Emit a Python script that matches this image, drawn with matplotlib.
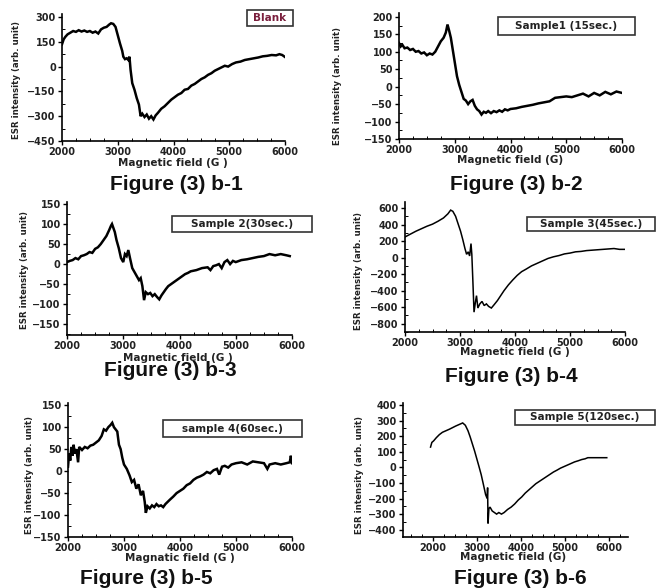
import matplotlib
matplotlib.use("Agg")
import matplotlib.pyplot as plt
from matplotlib.ticker import MultipleLocator, AutoMinorLocator
from matplotlib.patches import Rectangle

# ---------------- data ----------------
blank_pts = [(2000,135),(2030,165),(2060,180),(2100,195),(2150,205),(2200,215),(2250,210),(2300,220),
             (2350,212),(2400,218),(2450,210),(2500,215),(2550,205),(2600,212),(2650,200),(2700,225),
             (2750,235),(2800,240),(2850,255),(2880,262),(2920,258),(2960,240),(3000,190),(3040,140),
             (3080,95),(3100,60),(3130,45),(3160,50),(3190,40),(3210,60),(3230,-20),(3260,-100),
             (3300,-140),(3340,-190),(3380,-230),(3410,-300),(3440,-285),(3480,-305),(3520,-290),
             (3560,-315),(3600,-300),(3640,-320),(3680,-295),(3720,-280),(3780,-255),(3840,-240),
             (3900,-220),(3960,-200),(4020,-185),(4080,-170),(4140,-160),(4200,-140),(4260,-135),
             (4320,-115),(4380,-105),(4440,-90),(4500,-75),(4560,-65),(4620,-50),(4680,-40),(4740,-25),
             (4800,-15),(4860,-5),(4920,5),(4980,0),(5050,15),(5120,25),(5200,30),(5280,40),(5360,45),
             (5440,50),(5520,55),(5600,62),(5680,65),(5760,70),(5840,68),(5900,75),(5950,70),(6000,58)]

sample1_pts = [(2000,125),(2030,115),(2060,120),(2100,110),(2150,112),(2200,105),(2250,108),(2300,100),
               (2350,102),(2400,95),(2450,98),(2500,90),(2550,95),(2600,92),(2650,100),(2700,115),
               (2750,130),(2800,140),(2840,155),(2870,178),(2900,160),(2930,140),(2960,110),(3000,70),
               (3040,30),(3080,5),(3120,-15),(3160,-35),(3200,-40),(3240,-50),(3280,-42),(3320,-38),
               (3360,-55),(3400,-65),(3440,-70),(3480,-80),(3520,-72),(3560,-75),(3600,-70),(3650,-76),
               (3700,-70),(3750,-73),(3800,-68),(3850,-72),(3900,-65),(3950,-68),(4000,-64),(4100,-62),
               (4200,-58),(4300,-55),(4400,-52),(4500,-48),(4600,-45),(4700,-42),(4800,-32),(4900,-30),
               (5000,-28),(5100,-30),(5200,-25),(5300,-20),(5400,-28),(5500,-18),(5600,-25),(5700,-15),
               (5800,-22),(5900,-14),(6000,-18)]

sample2_pts = [(2000,5),(2050,8),(2100,10),(2150,15),(2200,12),(2250,20),(2300,22),(2350,25),(2400,30),
               (2450,28),(2500,38),(2550,42),(2600,50),(2650,60),(2700,70),(2750,85),(2780,95),(2800,100),
               (2820,92),(2850,80),(2880,60),(2920,40),(2960,15),(3000,5),(3030,25),(3060,20),(3090,35),
               (3120,15),(3160,-10),(3200,-20),(3240,-30),(3280,-40),(3310,-35),(3340,-55),(3370,-90),
               (3400,-70),(3440,-75),(3480,-72),(3520,-80),(3560,-75),(3600,-82),(3640,-88),(3680,-78),
               (3720,-70),(3760,-62),(3800,-55),(3850,-50),(3900,-45),(3950,-40),(4000,-35),(4050,-30),
               (4100,-25),(4150,-22),(4200,-18),(4300,-15),(4400,-10),(4500,-8),(4550,-15),(4600,-5),
               (4650,-3),(4700,0),(4750,-10),(4800,5),(4850,10),(4900,0),(4950,8),(5000,5),(5100,10),
               (5200,12),(5300,15),(5400,18),(5500,20),(5600,25),(5700,22),(5800,25),(5900,22),(5960,20)]

sample3_pts = [(2000,250),(2100,285),(2200,320),(2300,350),(2400,380),(2500,405),(2600,440),(2700,480),
               (2780,530),(2830,575),(2870,560),(2920,500),(2960,420),(3010,320),(3050,220),(3090,110),
               (3120,40),(3150,70),(3175,20),(3200,170),(3215,40),(3235,-300),(3255,-660),(3280,-540),
               (3300,-460),(3325,-610),(3360,-560),(3400,-530),(3440,-580),(3480,-560),(3520,-590),
               (3570,-610),(3620,-570),(3680,-520),(3740,-460),(3800,-400),(3880,-330),(3960,-270),
               (4040,-215),(4120,-170),(4200,-140),(4300,-100),(4400,-70),(4500,-40),(4600,-10),
               (4700,10),(4800,25),(4900,45),(5000,55),(5100,70),(5200,75),(5300,85),(5400,90),
               (5500,95),(5600,100),(5700,105),(5800,110),(5900,100),(6000,100)]

sample4_pts = [(2000,10),(2020,40),(2040,25),(2060,55),(2080,35),(2100,60),(2120,40),(2150,50),(2180,20),
               (2200,55),(2250,48),(2300,55),(2350,52),(2400,58),(2450,60),(2500,65),(2550,70),(2600,80),
               (2640,95),(2680,92),(2720,100),(2760,105),(2790,110),(2820,100),(2850,95),(2880,90),
               (2910,60),(2940,50),(2970,30),(3000,15),(3050,5),(3100,-10),(3140,-25),(3180,-20),
               (3220,-40),(3260,-30),(3300,-55),(3340,-45),(3370,-70),(3390,-95),(3420,-80),(3460,-85),
               (3500,-78),(3540,-82),(3580,-75),(3620,-80),(3660,-78),(3700,-82),(3740,-75),(3780,-70),
               (3820,-65),(3880,-58),(3940,-50),(4000,-45),(4060,-40),(4120,-32),(4180,-28),(4240,-20),
               (4300,-15),(4360,-12),(4420,-8),(4480,-2),(4540,-5),(4600,2),(4660,5),(4700,-8),
               (4750,10),(4800,12),(4860,8),(4920,15),(5000,18),(5100,20),(5200,15),(5300,22),
               (5400,20),(5500,18),(5560,5),(5600,15),(5700,18),(5800,15),(5900,18),(5960,20),
               (5980,35),(6000,18)]

sample5_pts = [(1950,130),(1980,160),(2020,170),(2080,190),(2150,210),(2220,225),(2300,235),(2380,245),
               (2450,255),(2520,265),(2600,275),(2680,285),(2740,270),(2800,235),(2850,195),(2900,150),
               (2950,105),(3000,55),(3050,5),(3100,-47),(3150,-110),(3200,-175),(3235,-200),(3245,-130),
               (3255,-360),(3275,-265),(3300,-255),(3350,-280),(3400,-290),(3450,-300),(3500,-290),
               (3560,-300),(3620,-290),(3700,-270),(3780,-255),(3860,-235),(3940,-210),(4020,-190),
               (4100,-165),(4180,-145),(4260,-125),(4340,-105),(4420,-90),(4500,-75),(4580,-60),
               (4660,-45),(4740,-30),(4820,-18),(4900,-5),(4980,5),(5060,15),(5140,25),(5220,35),
               (5300,42),(5380,50),(5460,55),(5520,62),(5600,62),(5700,62),(5800,62),(5900,62),(5950,62)]

series = [blank_pts, sample1_pts, sample2_pts, sample3_pts, sample4_pts, sample5_pts]
legend_labels = ["Blank", "Sample1 (15sec.)", "Sample 2(30sec.)", "Sample 3(45sec.)",
                 "sample 4(60sec.)", "Sample 5(120sec.)"]
captions = ["Figure (3) b-1", "Figure (3) b-2", "Figure (3) b-3",
            "Figure (3) b-4", "Figure (3) b-5", "Figure (3) b-6"]
xlabels = ["Magnetic field (G )", "Magnetic field (G)", "Magnetic field (G )",
           "Magnetic field (G )", "Magnatic field (G )", "Magnetic field (G)"]
ylabel = "ESR intensity (arb. unit)"
ylims = [(-450, 318), (-150, 211), (-177, 155), (-900, 673), (-150, 155), (-447, 413)]
ysteps = [150, 50, 50, 200, 50, 100]
xlims = [(2000, 6000)] * 5 + [(1325, 6432)]

# ---------------- layout (pixels) ----------------
W, H = 662, 588
axes_px = [(62, 285, 14, 141), (399, 622, 13, 139), (67, 292, 202, 335),
           (405, 625, 202, 332), (68, 292, 403, 537), (403, 628, 403, 537)]
ylab_px = [(17, 80), (337, 86), (25, 270), (358, 271), (30, 475), (360, 475)]
xlab_px = [(173, 163), (510, 160), (178, 358), (515, 352), (180, 558), (513, 557)]
box_px = [(247, 293, 10, 26), (498, 635, 17, 35), (172, 312, 216, 232),
          (527, 655, 217, 231), (163, 302, 420, 437), (515, 655, 410, 425)]
cap_px = [(176, 184), (516, 184), (170, 371), (511, 377), (146, 579), (520, 579)]
lws = [1.8, 1.8, 1.8, 1.1, 1.8, 1.1]

fig = plt.figure(figsize=(W / 100, H / 100), dpi=100)
fig.patch.set_facecolor("white")

def fx(x):
    return x / W

def fy(y):
    return 1 - y / H

for i in range(6):
    L, R, T, B = axes_px[i]
    ax = fig.add_axes([fx(L), fy(B), (R - L) / W, (B - T) / H])
    xs = [p[0] for p in series[i]]
    ys = [p[1] for p in series[i]]
    ax.plot(xs, ys, color="black", lw=lws[i], solid_joinstyle="miter")
    ax.set_xlim(*xlims[i])
    ax.set_ylim(*ylims[i])
    ax.xaxis.set_major_locator(MultipleLocator(1000))
    ax.yaxis.set_major_locator(MultipleLocator(ysteps[i]))
    ax.xaxis.set_minor_locator(AutoMinorLocator(4))
    ax.yaxis.set_minor_locator(AutoMinorLocator(2))
    for s in ("top", "right"):
        ax.spines[s].set_visible(False)
    for s in ("left", "bottom"):
        ax.spines[s].set_linewidth(1.2)
    ax.tick_params(which="major", direction="out", length=3, width=1, pad=1.5,
                   labelsize=7)
    ax.tick_params(which="minor", direction="in", length=2, width=0.7)
    for lab in ax.get_xticklabels() + ax.get_yticklabels():
        lab.set_fontweight("bold")
        lab.set_color("#222222")
    ax.patch.set_alpha(0)

    fig.text(fx(ylab_px[i][0]), fy(ylab_px[i][1]), ylabel, rotation=90,
             ha="center", va="center", fontsize=6.2, fontweight="bold", color="#222222")
    fig.text(fx(xlab_px[i][0]), fy(xlab_px[i][1]), xlabels[i],
             ha="center", va="center", fontsize=7.5, fontweight="bold", color="#222222")

    bl, br, bt, bb = box_px[i]
    fig.patches.append(Rectangle((fx(bl), fy(bb)), (br - bl) / W, (bb - bt) / H,
                                 transform=fig.transFigure, fill=False,
                                 edgecolor="#333333", lw=1.2))
    fig.text(fx((bl + br) / 2), fy((bt + bb) / 2), legend_labels[i],
             ha="center", va="center", fontsize=7.5, fontweight="bold",
             color="#7a1f3d" if i == 0 else "#222222")

    fig.text(fx(cap_px[i][0]), fy(cap_px[i][1]), captions[i], ha="center", va="center",
             fontsize=15, fontweight="bold", family="Liberation Sans", color="#111111")

fig.savefig("out.png", dpi=100, facecolor="white")
